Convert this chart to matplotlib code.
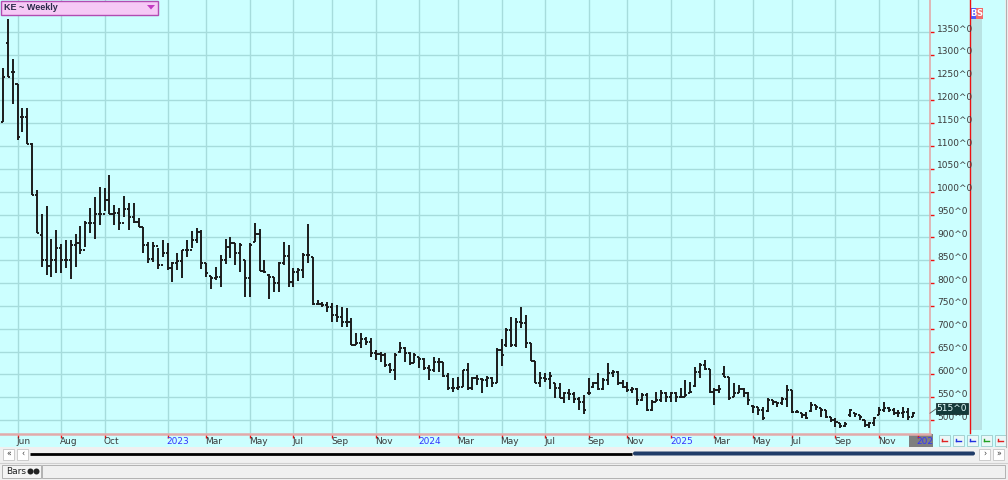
import numpy as np
import matplotlib
matplotlib.use('Agg')
import matplotlib.pyplot as plt
from matplotlib.patches import Rectangle, Polygon, FancyBboxPatch, Circle
from matplotlib.collections import LineCollection
from matplotlib.transforms import Bbox

# KE weekly bars (cents/bu), May 2022 -> Dec 2025
opens = [1153, 1326, 1262, 1236, 1164, 1164, 1105, 993, 905, 850,
         838, 851, 877, 851, 851, 884, 888, 873, 932, 932,
         951, 951, 982, 951, 954, 931, 962, 945, 934, 923,
         884, 853, 881, 840, 865, 833, 844, 848, 873, 873,
         894, 912, 844, 816, 811, 813, 851, 879, 888, 866,
         850, 811, 890, 908, 827, 818, 813, 800, 844, 859,
         803, 825, 829, 862, 857, 754, 754, 752, 748, 730,
         726, 715, 715, 665, 669, 678, 671, 647, 645, 643,
         621, 610, 648, 658, 647, 625, 638, 634, 614, 610,
         627, 627, 597, 570, 570, 573, 610, 570, 592, 590,
         588, 592, 581, 654, 665, 697, 665, 715, 713, 669,
         629, 581, 592, 590, 581, 570, 548, 559, 557, 546,
         540, 560, 572, 581, 568, 588, 603, 605, 581, 573,
         566, 568, 544, 555, 522, 540, 544, 559, 551, 559,
         551, 551, 560, 575, 605, 621, 612, 562, 566, 600,
         594, 551, 559, 568, 559, 531, 529, 522, 520, 544,
         540, 537, 545, 566, 518, 516, 511, 520, 533, 527,
         522, 507, 500, 494, 487, 510, 516, 511, 500, 489,
         494, 512, 522, 527, 522, 516, 516, 518, 507]
highs = [1271, 1378, 1291, 1236, 1184, 1184, 1107, 1004, 951, 969,
         897, 916, 886, 894, 894, 908, 925, 936, 965, 989,
         1011, 1008, 1037, 971, 965, 991, 975, 975, 943, 923,
         890, 890, 877, 894, 888, 846, 866, 873, 894, 914,
         921, 916, 844, 816, 835, 862, 897, 901, 888, 888,
         851, 888, 932, 919, 851, 820, 813, 846, 890, 884,
         833, 833, 866, 930, 857, 763, 759, 759, 757, 752,
         748, 746, 724, 691, 691, 682, 680, 654, 649, 647,
         625, 647, 671, 660, 649, 647, 638, 636, 621, 638,
         636, 627, 603, 592, 594, 610, 625, 594, 599, 592,
         597, 594, 658, 678, 702, 726, 724, 748, 730, 669,
         629, 605, 603, 605, 581, 581, 562, 568, 562, 551,
         555, 592, 583, 603, 592, 625, 610, 608, 588, 583,
         573, 570, 559, 559, 544, 562, 566, 562, 562, 562,
         570, 588, 583, 616, 625, 632, 612, 570, 577, 619,
         594, 581, 577, 570, 562, 533, 529, 529, 548, 544,
         540, 551, 577, 566, 522, 516, 518, 540, 533, 527,
         522, 507, 505, 494, 496, 525, 516, 511, 500, 496,
         507, 529, 540, 529, 527, 522, 529, 527, 518]
lows = [1153, 1251, 1192, 1113, 1131, 1105, 993, 910, 835, 818,
        813, 822, 822, 833, 809, 835, 864, 879, 910, 897,
        927, 958, 951, 927, 916, 945, 916, 932, 923, 866,
        844, 846, 831, 857, 829, 803, 829, 811, 857, 877,
        888, 831, 813, 787, 807, 792, 842, 855, 840, 824,
        770, 770, 890, 827, 822, 765, 781, 781, 840, 792,
        792, 805, 811, 844, 752, 752, 748, 737, 715, 715,
        704, 704, 665, 665, 658, 665, 638, 632, 627, 616,
        603, 588, 647, 627, 621, 625, 614, 610, 588, 605,
        605, 594, 566, 562, 566, 573, 566, 566, 577, 559,
        573, 573, 581, 619, 660, 660, 660, 702, 658, 629,
        581, 573, 583, 568, 548, 548, 537, 544, 537, 522,
        513, 555, 570, 566, 566, 577, 594, 577, 570, 562,
        559, 533, 542, 520, 520, 540, 540, 540, 540, 540,
        548, 551, 559, 573, 592, 610, 559, 533, 559, 594,
        544, 551, 559, 551, 533, 515, 511, 500, 518, 533,
        529, 533, 529, 516, 516, 505, 503, 518, 522, 507,
        505, 496, 485, 483, 485, 507, 507, 500, 485, 483,
        487, 511, 518, 518, 511, 507, 505, 500, 507]
closes = [1251, 1251, 1262, 1120, 1164, 1105, 993, 910, 850, 838,
          851, 877, 851, 851, 884, 888, 873, 932, 932, 951,
          951, 982, 951, 954, 931, 962, 945, 934, 923, 884,
          853, 881, 840, 865, 833, 844, 848, 873, 873, 894,
          912, 844, 822, 811, 813, 851, 879, 888, 866, 884,
          811, 884, 908, 827, 825, 813, 800, 844, 859, 803,
          825, 829, 862, 862, 754, 754, 752, 748, 730, 726,
          715, 715, 665, 669, 678, 671, 647, 645, 643, 621,
          610, 643, 658, 647, 625, 643, 634, 614, 610, 627,
          627, 597, 570, 570, 573, 610, 570, 592, 590, 588,
          592, 581, 654, 643, 697, 665, 715, 713, 669, 629,
          581, 592, 590, 597, 570, 548, 559, 557, 546, 540,
          522, 559, 581, 568, 588, 603, 605, 581, 573, 566,
          568, 544, 555, 522, 540, 544, 559, 551, 559, 551,
          551, 555, 562, 605, 621, 612, 562, 566, 568, 594,
          548, 559, 568, 559, 544, 529, 522, 505, 544, 540,
          537, 545, 566, 518, 518, 511, 505, 533, 529, 522,
          507, 500, 496, 487, 492, 522, 514, 507, 489, 494,
          505, 522, 527, 522, 516, 516, 518, 507, 515]

month_labels = ['Jun', 'Aug', 'Oct', '2023', 'Mar', 'May', 'Jul', 'Sep', 'Nov',
                '2024', 'Mar', 'May', 'Jul', 'Sep', 'Nov',
                '2025', 'Mar', 'May', 'Jul', 'Sep', 'Nov', '2026']
month_bars = [4, 13, 22, 35, 43, 52, 61, 69, 78, 87, 95, 104, 113, 122, 130,
              139, 148, 156, 164, 173, 182, 190]
price_ticks = list(range(500, 1351, 50))
last_price = 515

W, H = 1008, 480
CYAN = '#ccffff'
GRID = '#a6dcdc'
BAR = '#1c1c1c'
AXLINE = '#e2aaaa'
LABEL = '#3a3a3a'
BLUE = '#3333ff'

fig = plt.figure(figsize=(W / 100, H / 100), dpi=100)
fig.patch.set_facecolor('#f0f0f0')

# background chrome, pixel coords, y down
bg = fig.add_axes([0, 0, 1, 1], zorder=0)
bg.set_xlim(0, W)
bg.set_ylim(H, 0)
bg.axis('off')
bg.add_patch(Rectangle((0, 0), 1005, 447, fc=CYAN, ec='none'))
bg.add_patch(Rectangle((970, 19), 12, 411, fc='#b9e3e3', ec='none'))
bg.plot([969.5, 969.5], [0, 433], color='#ee1111', lw=1.0)
bg.add_patch(Rectangle((970, 8), 6, 11, fc='#4a5cff', ec='none'))
bg.add_patch(Rectangle((976, 8), 7, 11, fc='#f06a6a', ec='none'))
bg.text(973, 13.5, 'B', color='white', fontsize=6, ha='center', va='center', fontweight='bold')
bg.text(979.5, 13.5, 'S', color='white', fontsize=6, ha='center', va='center', fontweight='bold')
bg.plot([1005.5, 1005.5], [0, 447], color='#b0b0b0', lw=0.8)

# grey box under the clipped 2026 label
bg.add_patch(Rectangle((909, 434), 24, 13, fc='#7f7f7f', ec='none'))

# small view buttons in the time-axis strip
btn_colors = ['#e02020', '#2030e0', '#2030e0', '#20a020', '#e02020']
for k, c in enumerate(btn_colors):
    bx = 939 + k * 14
    bg.add_patch(Rectangle((bx, 435), 11, 11, fc='#eaf8f8', ec='#9ccaca', lw=0.6))
    bg.plot([bx + 3, bx + 8], [441, 441], color=c, lw=1.0)
    bg.plot([bx + 3, bx + 3], [439, 441], color=c, lw=1.0)

# scroll bar
for bx, s in [(3, '\u00ab'), (17, '\u2039')]:
    bg.add_patch(Rectangle((bx, 449), 11, 11, fc='white', ec='#c4c4c4', lw=0.6))
    bg.text(bx + 5.5, 454.5, s, fontsize=5.5, ha='center', va='center', color='#333333')
bg.plot([30, 632], [453.5, 453.5], color='black', lw=2.0, solid_capstyle='butt')
bg.add_patch(FancyBboxPatch((633, 451.5), 342, 4, boxstyle='round,pad=0,rounding_size=2',
                            fc='#1f3c68', ec='none'))
for bx, s in [(979, '\u203a'), (993, '\u00bb')]:
    bg.add_patch(Rectangle((bx, 449), 11, 11, fc='white', ec='#c4c4c4', lw=0.6))
    bg.text(bx + 5.5, 454.5, s, fontsize=5.5, ha='center', va='center', color='#333333')

# status bar
bg.plot([0, W], [462.5, 462.5], color='#d0d0d0', lw=0.8)
bg.add_patch(Rectangle((2, 465), 39, 13, fc='#f4f4f4', ec='#a8a8a8', lw=0.6))
bg.add_patch(Rectangle((42, 465), 963, 13, fc='#f0f0f0', ec='#a8a8a8', lw=0.6))
bg.text(6, 471.5, 'Bars', fontsize=6.5, ha='left', va='center', color='#222222')
bg.add_patch(Circle((30.5, 471.5), 3, fc='#222222', ec='none'))
bg.add_patch(Circle((36.5, 471.5), 3, fc='#222222', ec='none'))

# main price pane
ax = fig.add_axes([0, 46 / H, 930 / W, 434 / H], zorder=1)
ax.set_facecolor(CYAN)
ax.patch.set_alpha(1)
n = len(closes)
x = np.arange(1, n + 1)
px = 4.84  # pixels per bar
ax.set_xlim(1 - 3 / px, 1 + 927 / px)
ax.set_ylim(1350 - 402 / 0.4565, 1350 + 32 / 0.4565)

segs = []
for xi, o, h, l, c in zip(x, opens, highs, lows, closes):
    segs.append([(xi, l), (xi, h)])
    segs.append([(xi - 0.42, o), (xi, o)])
    segs.append([(xi, c), (xi + 0.42, c)])
ax.add_collection(LineCollection(segs, colors=BAR, linewidths=1.4, capstyle='butt', zorder=3))

ax.set_xticks(month_bars)
ax.set_yticks(price_ticks)
ax.yaxis.set_ticks_position('right')
ax.tick_params(axis='both', length=3, width=1, color='#ee1111', direction='out',
               labelbottom=False, labelright=False, labelleft=False)
ax.set_axisbelow(True)
ax.grid(True, color=GRID, lw=1.0)
for side in ['left', 'top']:
    ax.spines[side].set_visible(False)
ax.spines['right'].set_color(AXLINE)
ax.spines['right'].set_linewidth(1.2)
ax.spines['bottom'].set_color(AXLINE)
ax.spines['bottom'].set_linewidth(1.8)

for v in price_ticks:
    ax.annotate(f'{v}^0', xy=(1, v), xycoords=('axes fraction', 'data'),
                xytext=(7, 3), textcoords='offset pixels', ha='left', va='center',
                fontsize=6.5, color=LABEL, annotation_clip=False)

for lab, b in zip(month_labels, month_bars):
    is_year = lab.isdigit()
    t = ax.annotate(lab, xy=(b, 0), xycoords=('data', 'axes fraction'),
                    xytext=(-1, -8), textcoords='offset pixels', ha='left', va='center',
                    fontsize=6.5, color=BLUE if is_year else LABEL, annotation_clip=False)
    if lab == '2026':
        t.set_clip_box(Bbox.from_extents(0, 0, 933, H))
        t.set_clip_on(True)

# overlay: symbol box and last-price tag
ov = fig.add_axes([0, 0, 1, 1], zorder=3)
ov.set_xlim(0, W)
ov.set_ylim(H, 0)
ov.axis('off')
ov.patch.set_alpha(0)
ov.add_patch(Rectangle((0.5, 0.5), 157, 14, fc='#f6c9f6', ec='#b24cb2', lw=1.0))
ov.text(4, 8, 'KE ~ Weekly', fontsize=6.5, fontweight='bold', family='Liberation Sans',
        color='#2a2a4a', ha='left', va='center')
ov.add_patch(Polygon([(147, 5), (155, 5), (151, 9.5)], closed=True, fc='#c23cc2', ec='none'))

py = 32 + (1350 - last_price) * 0.4565
ov.plot([930, 937], [py, py - 5], color='#555555', lw=0.6)
ov.add_patch(Rectangle((936, 402.5), 32, 11, fc='#143a3a', ec='#0a2020', lw=0.5))
ov.text(952, 408.3, f'{last_price}^0', fontsize=6.5, color='#e8ffff', ha='center', va='center')

fig.savefig('out.png', dpi=100, facecolor=fig.get_facecolor())
